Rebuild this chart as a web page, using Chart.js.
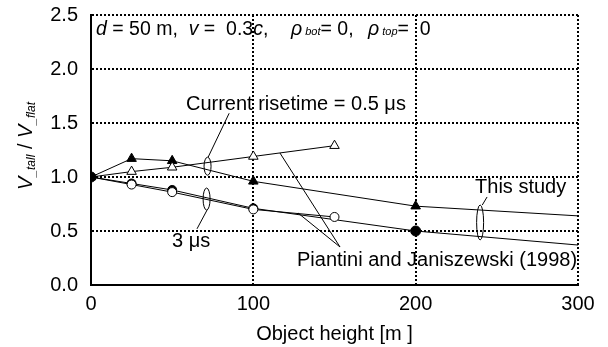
<!DOCTYPE html>
<html lang="en">
<head>
  <meta charset="UTF-8">
  <title>Tall object voltage ratio</title>
  <script src="https://cdn.jsdelivr.net/npm/chart.js"></script>
  <style>
    body { margin: 0; background: #fff; }
    #wrap { width: 608px; height: 347px; }
  </style>
</head>
<body>
  <div id="wrap"><canvas id="ratioChart" width="608" height="347"></canvas></div>

  <script>
    // Object heights [m] and V_tall / V_flat ratios
    const studyHeights = [0, 25, 50, 100, 200, 300];
    const studyFast = [1.00, 1.17, 1.15, 0.96, 0.73, 0.64];   // risetime 0.5 us
    const studySlow = [1.00, 0.94, 0.88, 0.71, 0.50, 0.37];   // risetime 3 us
    const pjHeights = [0, 25, 50, 100, 150];
    const pjFast = [1.00, 1.05, 1.09, 1.19, 1.29];            // Piantini & Janiszewski, 0.5 us
    const pjSlow = [1.00, 0.93, 0.86, 0.70, 0.63];            // Piantini & Janiszewski, 3 us
    const xTicks = [0, 100, 200, 300];
    const yTicks = [0.0, 0.5, 1.0, 1.5, 2.0, 2.5];

    const FONT = "'Liberation Sans', Arial, sans-serif";

    function pts(xs, ys) {
      return xs.map((x, i) => ({ x: x, y: ys[i] }));
    }

    // callouts in data units: ellipses, leader lines, labels
    const ellipses = [
      { x: 71.8, y: 1.10, rx: 3.5, ry: 9 },
      { x: 71.2, y: 0.796, rx: 3.5, ry: 11 },
      { x: 239.7, y: 0.579, rx: 3.5, ry: 17.5 }
    ];
    const leaders = [
      [[85.1, 1.59], [72.2, 1.185]],
      [[71.5, 0.694], [65.3, 0.52]],
      [[244, 0.815], [241, 0.74]],
      [[153.4, 0.352], [116.4, 1.222]],
      [[153.4, 0.352], [127.5, 0.667]]
    ];
    const callouts = [
      { x: 58.5, y: 1.676, text: 'Current risetime = 0.5 \u03bcs' },
      { x: 49.9, y: 0.407, text: '3 \u03bcs' },
      { x: 236.6, y: 0.907, text: 'This study' },
      { x: 126.9, y: 0.231, text: 'Piantini and Janiszewski (1998)' }
    ];

    // draws runs of [text, size, italic, dy] left to right
    function drawRuns(ctx, runs, x, y) {
      runs.forEach(r => {
        ctx.font = (r[2] ? 'italic ' : '') + r[1] + 'px ' + FONT;
        ctx.fillText(r[0], x, y + (r[3] || 0));
        x += ctx.measureText(r[0]).width;
      });
      return x;
    }
    function runsWidth(ctx, runs) {
      let w = 0;
      runs.forEach(r => {
        ctx.font = (r[2] ? 'italic ' : '') + r[1] + 'px ' + FONT;
        w += ctx.measureText(r[0]).width;
      });
      return w;
    }

    const decorations = {
      id: 'decorations',
      afterDatasetsDraw(chart) {
        const ctx = chart.ctx;
        const xs = chart.scales.x, ys = chart.scales.y;
        ctx.save();
        ctx.strokeStyle = '#000';
        ctx.fillStyle = '#000';
        ctx.lineWidth = 1;

        ellipses.forEach(e => {
          ctx.beginPath();
          ctx.ellipse(xs.getPixelForValue(e.x), ys.getPixelForValue(e.y), e.rx, e.ry, 0, 0, Math.PI * 2);
          ctx.stroke();
        });
        leaders.forEach(l => {
          ctx.beginPath();
          ctx.moveTo(xs.getPixelForValue(l[0][0]), ys.getPixelForValue(l[0][1]));
          ctx.lineTo(xs.getPixelForValue(l[1][0]), ys.getPixelForValue(l[1][1]));
          ctx.stroke();
        });

        ctx.textBaseline = 'middle';
        ctx.textAlign = 'left';
        ctx.font = '20px ' + FONT;
        callouts.forEach(c => {
          ctx.fillText(c.text, xs.getPixelForValue(c.x), ys.getPixelForValue(c.y));
        });

        // parameter line along the top
        ctx.textBaseline = 'alphabetic';
        drawRuns(ctx, [
          ['d', 19.5, true], [' = 50 m,  ', 19.5, false], ['v', 19.5, true], [' =  0.3', 19.5, false],
          ['c', 19.5, true], [',', 19.5, false]
        ], 96, 35);
        drawRuns(ctx, [['\u03c1', 19.5, true], [' bot', 11, true], ['= 0,', 19.5, false]], 291, 35);
        drawRuns(ctx, [['\u03c1', 19.5, true], [' top', 11, true], ['=  0', 19.5, false]], 368, 35);

        // x axis title
        ctx.textAlign = 'center';
        ctx.font = '20px ' + FONT;
        ctx.fillText('Object height [m ]', (chart.chartArea.left + chart.chartArea.right) / 2, 340);

        // y axis title, rotated
        ctx.textAlign = 'left';
        const yRuns = [
          ['V', 20, true], ['_tall', 12, true, 3], [' / ', 20, false],
          ['V', 20, true], ['_flat', 12, true, 3]
        ];
        ctx.translate(25, 146);
        ctx.rotate(-Math.PI / 2);
        drawRuns(ctx, yRuns, -runsWidth(ctx, yRuns) / 2, 7);
        ctx.restore();
      }
    };

    const line = { borderColor: '#000', borderWidth: 1, showLine: true, tension: 0 };

    // fixed plot frame: scale widths set here, label overhang ignored
    function pinX(s) { s.height = 62; s.paddingLeft = 0; s.paddingRight = 0; }
    function pinY(s) { s.width = 91; s.paddingTop = 0; s.paddingBottom = 0; }

    new Chart(document.getElementById('ratioChart'), {
      type: 'scatter',
      data: {
        datasets: [
          Object.assign({}, line, {
            label: 'P&J 3 us', data: pts(pjHeights, pjSlow),
            pointStyle: 'circle', pointRadius: [0, 4.5, 4.5, 4.5, 4.5],
            pointBackgroundColor: '#fff', pointBorderColor: '#000', pointBorderWidth: 1
          }),
          Object.assign({}, line, {
            label: 'P&J 0.5 us', data: pts(pjHeights, pjFast),
            pointStyle: 'triangle', pointRadius: [0, 5.5, 5.5, 5.5, 5.5],
            pointBackgroundColor: '#fff', pointBorderColor: '#000', pointBorderWidth: 1
          }),
          Object.assign({}, line, {
            label: 'This study 3 us', data: pts(studyHeights, studySlow),
            pointStyle: 'circle', pointRadius: [5, 4.5, 4.5, 4.5, 5, 0],
            pointBackgroundColor: '#000', pointBorderColor: '#000'
          }),
          Object.assign({}, line, {
            label: 'This study 0.5 us', data: pts(studyHeights, studyFast),
            pointStyle: 'triangle', pointRadius: [5.5, 5.5, 5.5, 5.5, 5.5, 0],
            pointBackgroundColor: '#000', pointBorderColor: '#000'
          })
        ]
      },
      options: {
        responsive: false,
        animation: false,
        layout: { padding: { top: 15, right: 30, left: 0, bottom: 0 } },
        plugins: { legend: { display: false }, tooltip: { enabled: false } },
        scales: {
          x: {
            type: 'linear', min: 0, max: 300,
            afterFit: pinX,
            afterBuildTicks: s => { s.ticks = xTicks.map(v => ({ value: v })); },
            ticks: { color: '#000', padding: 7, font: { family: FONT, size: 20 }, maxRotation: 0 },
            grid: { color: '#000', lineWidth: 2, drawTicks: false },
            border: { display: true, color: '#000', width: 2, dash: [2, 2] }
          },
          y: {
            type: 'linear', min: 0, max: 2.5,
            afterFit: pinY,
            afterBuildTicks: s => { s.ticks = yTicks.map(v => ({ value: v })); },
            ticks: { color: '#000', padding: 13, font: { family: FONT, size: 20 }, callback: v => v.toFixed(1) },
            grid: { color: '#000', lineWidth: 2, drawTicks: false },
            border: { display: true, color: '#000', width: 2, dash: [2, 2] }
          }
        }
      },
      plugins: [decorations]
    });
  </script>
</body>
</html>
